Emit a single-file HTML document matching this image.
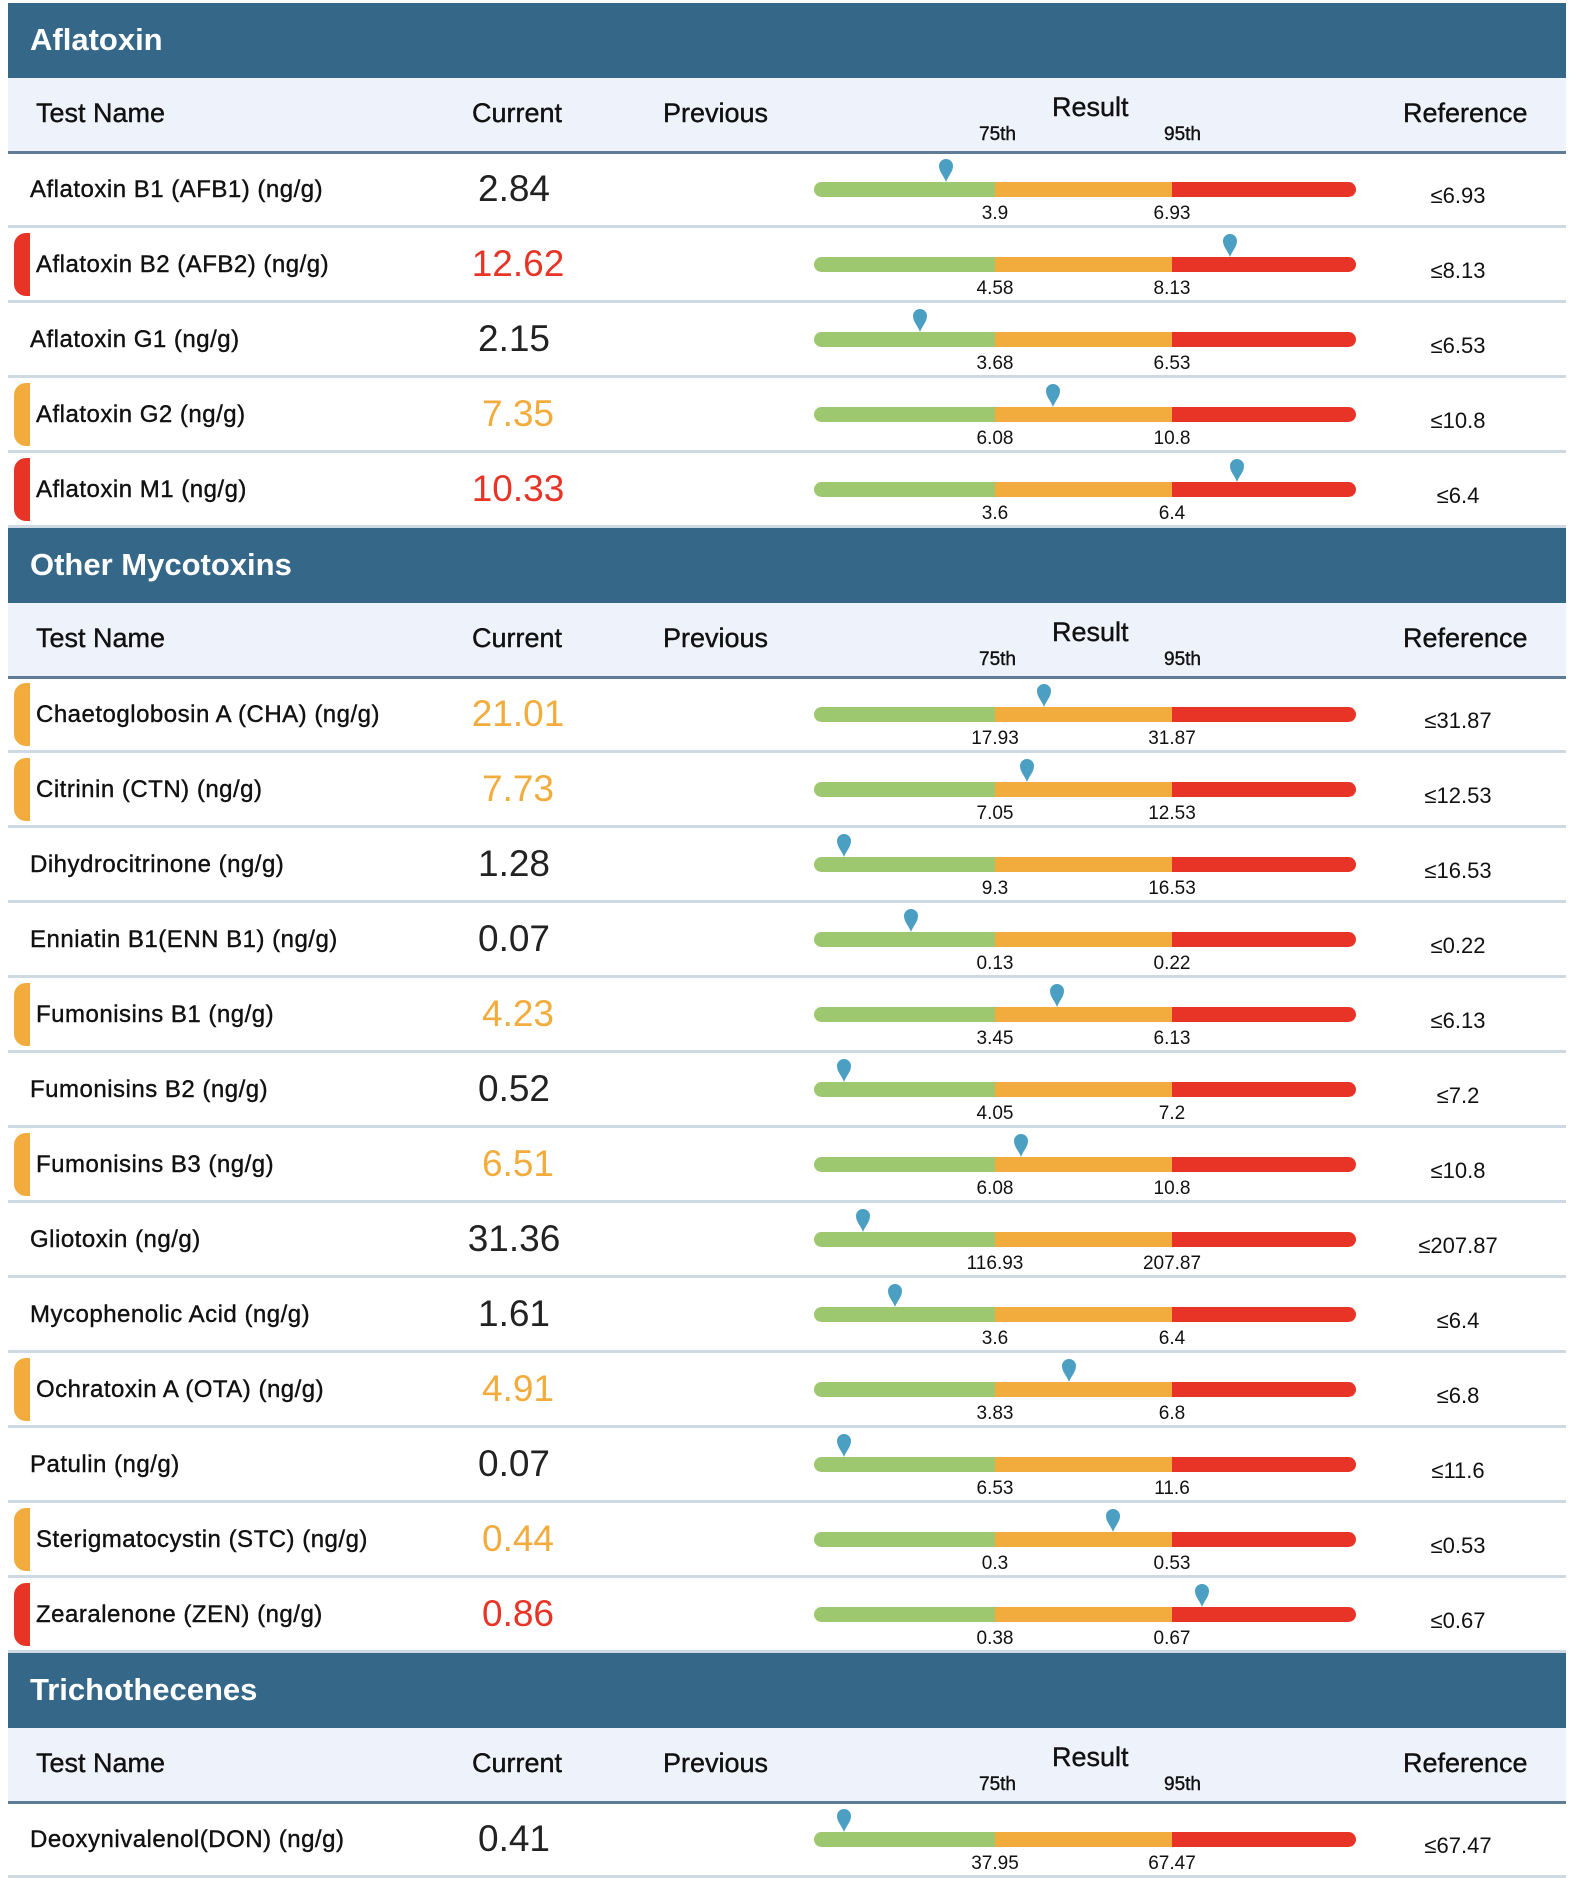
<!DOCTYPE html>
<html><head><meta charset="utf-8">
<style>
html,body{margin:0;padding:0;background:#fff;}
body{width:1572px;height:1878px;position:relative;overflow:hidden;font-family:"Liberation Sans",sans-serif;color:#111;}
.sec{position:absolute;left:8px;width:1558px;height:75px;background:#356789;color:#fff;font-weight:bold;font-size:31px;}
.sec span{position:absolute;left:22px;top:19px;}
.colh{position:absolute;left:8px;width:1558px;height:73px;background:#eef3fb;border-bottom:3px solid #5e7c96;font-size:27px;}
.colh div{position:absolute;white-space:nowrap;-webkit-text-stroke:0.4px #111;}
.row{position:absolute;left:8px;width:1558px;height:72px;border-bottom:3px solid #cfd9e2;}
.row div{position:absolute;white-space:nowrap;}
.nm{font-size:24px;top:23px;letter-spacing:0.5px;-webkit-text-stroke:0.4px #111;}
.cur{font-size:37px;top:15px;transform:translateX(-50%);}
.ref{font-size:22px;top:30px;transform:translateX(-50%);}
.tick{font-size:19px;top:50px;transform:translateX(-50%);}
.flag{left:6px;top:5px;width:16px;height:63px;border-radius:12px 0 0 12px;}
.bar{top:29px;height:15px;}
</style></head><body>
<div id="root"></div>
<script>
const sections=["Aflatoxin","Other Mycotoxins","Trichothecenes"];
const sectionCounts=[5,13,1];
const names=["Aflatoxin B1 (AFB1) (ng/g)","Aflatoxin B2 (AFB2) (ng/g)","Aflatoxin G1 (ng/g)","Aflatoxin G2 (ng/g)","Aflatoxin M1 (ng/g)",
"Chaetoglobosin A (CHA) (ng/g)","Citrinin (CTN) (ng/g)","Dihydrocitrinone (ng/g)","Enniatin B1(ENN B1) (ng/g)","Fumonisins B1 (ng/g)","Fumonisins B2 (ng/g)","Fumonisins B3 (ng/g)","Gliotoxin (ng/g)","Mycophenolic Acid (ng/g)","Ochratoxin A (OTA) (ng/g)","Patulin (ng/g)","Sterigmatocystin (STC) (ng/g)","Zearalenone (ZEN) (ng/g)",
"Deoxynivalenol(DON) (ng/g)"];
const current=["2.84","12.62","2.15","7.35","10.33","21.01","7.73","1.28","0.07","4.23","0.52","6.51","31.36","1.61","4.91","0.07","0.44","0.86","0.41"];
const p75=["3.9","4.58","3.68","6.08","3.6","17.93","7.05","9.3","0.13","3.45","4.05","6.08","116.93","3.6","3.83","6.53","0.3","0.38","37.95"];
const p95=["6.93","8.13","6.53","10.8","6.4","31.87","12.53","16.53","0.22","6.13","7.2","10.8","207.87","6.4","6.8","11.6","0.53","0.67","67.47"];
const COL={green:"#9dc870",orange:"#f2ac3e",red:"#e83426",mark:"#4b9fc3",text:"#222"};
const BL=814,GE=995,OE=1172,BR=1356;
function xScale(v,a,b){
  if(v<=a){return Math.max(BL+30,BL+(v/a)*(GE-BL));}
  if(v<=b){return GE+(v-a)/(b-a)*(OE-GE)+10;}
  return Math.min(BR-10,OE+(v-b)/(4*(b-a))*(BR-OE));
}
const root=document.getElementById('root');
function mk(parent,cls,style,text){const d=document.createElement('div');if(cls)d.className=cls;if(style)d.setAttribute('style',style);if(text!==undefined)d.textContent=text;parent.appendChild(d);return d;}
let y=3,idx=0;
sections.forEach((s,si)=>{
  const h=mk(root,'sec','top:'+y+'px');
  
  
  const sp=document.createElement('span');sp.textContent=s;h.appendChild(sp);
  y+=75;
  const c=mk(root,'colh','top:'+y+'px');
  
  
  const hdr=[["Test Name","left:28px;top:20px"],["Current","left:464px;top:20px"],["Previous","left:655px;top:20px"],["Result","left:1044px;top:14px"],["Reference","left:1395px;top:20px"]];
  hdr.forEach(hh=>{const e=mk(c,'',hh[1],hh[0]);});
  const a=mk(c,'','left:971px;top:46px;font-size:19px','75th');
  const b=mk(c,'','left:1156px;top:46px;font-size:19px','95th');
  y+=75;
  for(let k=0;k<sectionCounts[si];k++,idx++){
    const r=mk(root,'row','top:'+y+'px');
    
    
    const v=parseFloat(current[idx]),a75=parseFloat(p75[idx]),a95=parseFloat(p95[idx]);
    const lvl=v>a95?'red':(v>a75?'orange':null);
    if(lvl){const f=mk(r,'flag','background:'+COL[lvl]);}
    const n=mk(r,'nm','left:'+(lvl?28:22)+'px',names[idx]);
    const cu=mk(r,'cur','left:'+(lvl?510:506)+'px;color:'+(lvl?COL[lvl]:COL.text),current[idx]);
    const bx=BL-8,gx=GE-8,ox=OE-8,rx=BR-8;
    const g=mk(r,'bar','left:'+bx+'px;width:'+(gx-bx)+'px;background:'+COL.green+';border-radius:8px 0 0 8px');
    const o=mk(r,'bar','left:'+gx+'px;width:'+(ox-gx)+'px;background:'+COL.orange);
    const rd=mk(r,'bar','left:'+ox+'px;width:'+(rx-ox)+'px;background:'+COL.red+';border-radius:0 8px 8px 0');
    const mx=xScale(v,a75,a95)-8;
    const m=mk(r,'','left:'+(mx-8)+'px;top:5px;width:16px;height:24px');
    
    
    m.innerHTML='<svg width="16" height="24" viewBox="0 0 16 24"><path d="M8 24 C6 18 1 14 1 8 A7 7 0 0 1 15 8 C15 14 10 18 8 24Z" fill="'+COL.mark+'"/></svg>';
    const t1=mk(r,'tick','left:'+gx+'px',p75[idx]);
    const t2=mk(r,'tick','left:'+ox+'px',p95[idx]);
    const rf=mk(r,'ref','left:1450px','\u2264'+p95[idx]);
    y+=75;
  }
});
</script>
</body></html>
